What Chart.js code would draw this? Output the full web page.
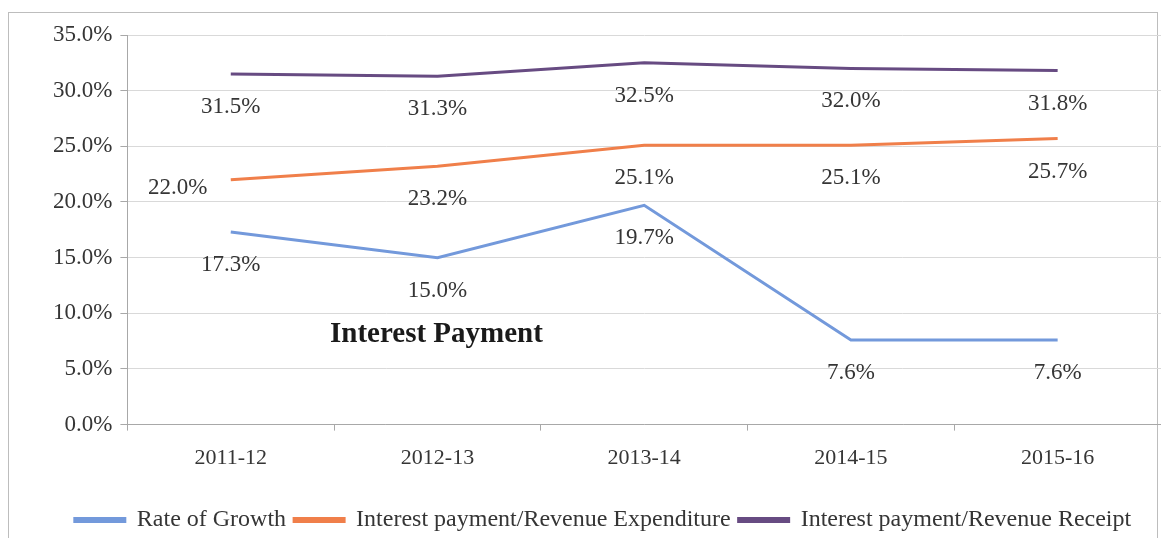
<!DOCTYPE html>
<html>
<head>
<meta charset="utf-8">
<script src="https://cdn.jsdelivr.net/npm/chart.js"></script>
<style>
    html, body { margin: 0; padding: 0; background: #fff; }
    .wrap { position: relative; width: 1161px; height: 538px; overflow: hidden; }
    .frame {
        position: absolute; left: 8px; top: 12px; width: 1150px; height: 560px;
        border: 1px solid #bdbdbd; box-sizing: border-box;
    }
    .inner-title {
        position: absolute; left: 330px; top: 316px;
        font-family: 'Liberation Serif', serif; font-weight: bold; font-size: 29px; color: #1a1a1a;
    }
    canvas { position: absolute; left: 0; top: 0; }
</style>
</head>
<body>
<div class="wrap">
    <div class="frame"></div>
    <canvas id="chart" width="1161" height="538"></canvas>
    <div class="inner-title">Interest Payment</div>
</div>

<script>
    // Chart data
    const years = ['2011-12', '2012-13', '2013-14', '2014-15', '2015-16'];
    const rateOfGrowth = [17.3, 15.0, 19.7, 7.6, 7.6];
    const ipRevenueExpenditure = [22.0, 23.2, 25.1, 25.1, 25.7];
    const ipRevenueReceipt = [31.5, 31.3, 32.5, 32.0, 31.8];
    const yTicks = [0, 5, 10, 15, 20, 25, 30, 35];

    const serif = "'Liberation Serif', 'Times New Roman', serif";
    const textColor = '#353535';

    // Draws the value labels under each point (first orange one sits to the left)
    const valueLabels = {
        id: 'valueLabels',
        afterDatasetsDraw(chart) {
            const ctx = chart.ctx;
            ctx.save();
            ctx.font = '23px ' + serif;
            ctx.fillStyle = textColor;
            ctx.textAlign = 'center';
            ctx.textBaseline = 'middle';
            chart.data.datasets.forEach((ds, i) => {
                const meta = chart.getDatasetMeta(i);
                meta.data.forEach((pt, j) => {
                    let dx = 0, dy = 33;
                    if (i === 1 && j === 0) { dx = -53; dy = 8; }
                    ctx.fillText(ds.data[j].toFixed(1) + '%', pt.x + dx, pt.y + dy);
                });
            });
            ctx.restore();
        }
    };

    const ctx = document.getElementById('chart').getContext('2d');
    new Chart(ctx, {
        type: 'line',
        data: {
            labels: years,
            datasets: [
                {
                    label: 'Rate of Growth',
                    data: rateOfGrowth,
                    borderColor: '#7399db',
                    backgroundColor: '#7399db',
                    borderWidth: 3,
                    pointRadius: 0,
                    tension: 0
                },
                {
                    label: 'Interest payment/Revenue Expenditure',
                    data: ipRevenueExpenditure,
                    borderColor: '#f07f4a',
                    backgroundColor: '#f07f4a',
                    borderWidth: 3,
                    pointRadius: 0,
                    tension: 0
                },
                {
                    label: 'Interest payment/Revenue Receipt',
                    data: ipRevenueReceipt,
                    borderColor: '#674b82',
                    backgroundColor: '#674b82',
                    borderWidth: 3,
                    pointRadius: 0,
                    tension: 0
                }
            ]
        },
        options: {
            responsive: false,
            animation: false,
            layout: { padding: { top: 35, left: 45, right: 0, bottom: -4 } },
            plugins: {
                legend: {
                    position: 'bottom',
                    labels: {
                        font: { family: serif, size: 24 },
                        color: textColor,
                        boxWidth: 50,
                        boxHeight: 3,
                        padding: 8
                    }
                },
                tooltip: { enabled: false }
            },
            scales: {
                x: {
                    offset: true,
                    afterFit(axis) {
                        axis.height += 15;
                    },
                    grid: {
                        offset: true,
                        drawOnChartArea: false,
                        drawTicks: true,
                        tickLength: 6,
                        color: '#a8a8a8'
                    },
                    border: { color: '#a8a8a8', width: 1 },
                    ticks: {
                        font: { family: serif, size: 22 },
                        color: textColor,
                        padding: 14
                    }
                },
                y: {
                    min: 0,
                    max: 35,
                    afterBuildTicks(axis) {
                        axis.ticks = yTicks.map(v => ({ value: v }));
                    },
                    grid: {
                        color: '#d9d9d9',
                        tickLength: 7,
                        tickColor: '#a8a8a8'
                    },
                    border: { color: '#a8a8a8', width: 1 },
                    ticks: {
                        font: { family: serif, size: 23 },
                        color: textColor,
                        padding: 8,
                        callback: v => v.toFixed(1) + '%'
                    }
                }
            }
        },
        plugins: [valueLabels]
    });
</script>
</body>
</html>
